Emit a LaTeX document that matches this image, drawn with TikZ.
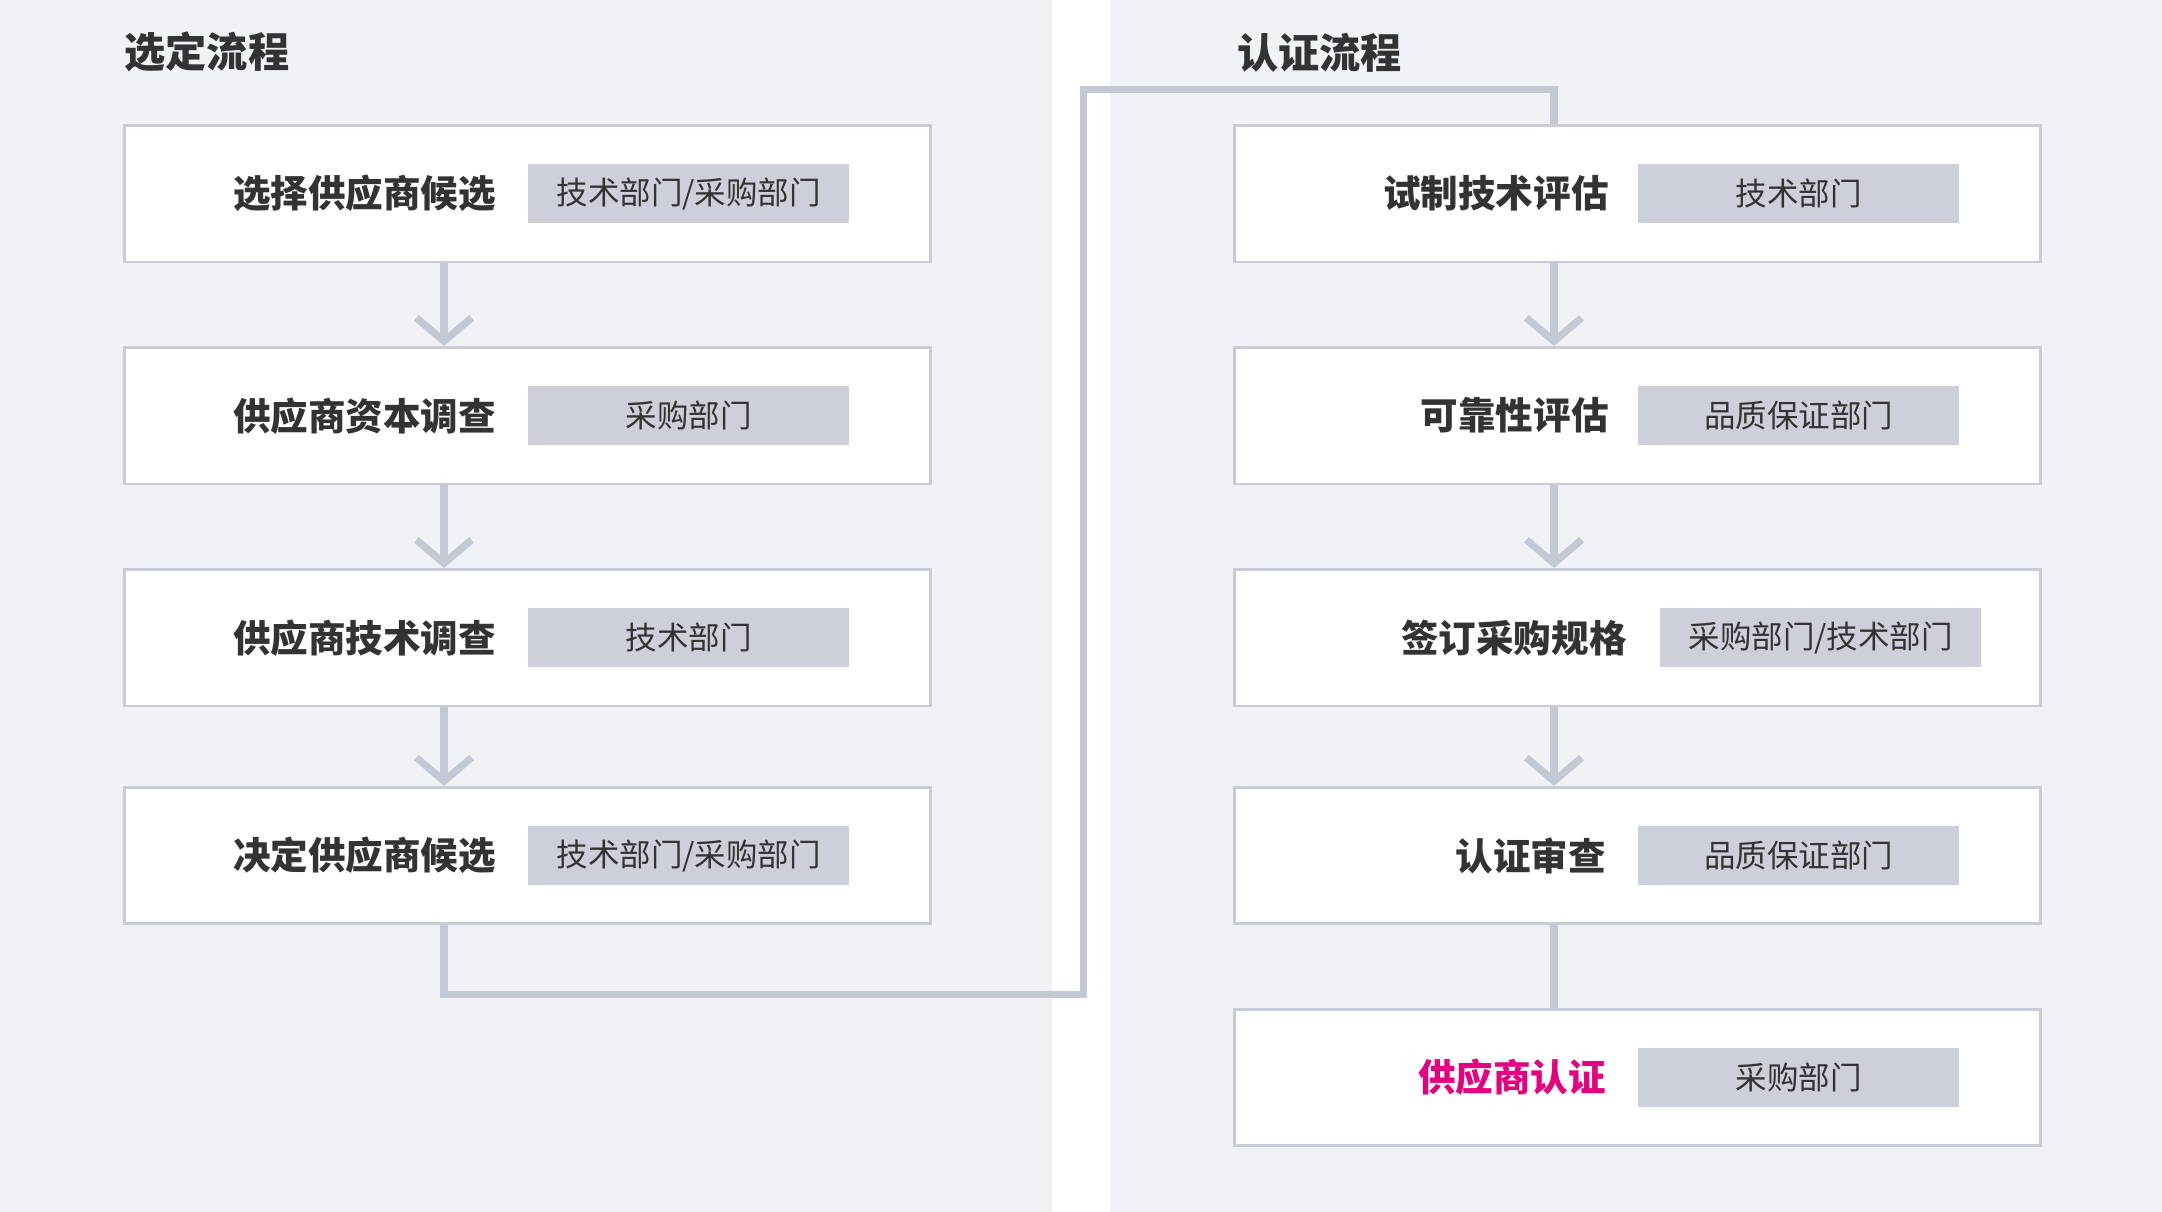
\documentclass[tikz,border=0pt]{standalone}
\usepackage{fontspec}
\newfontfamily\cjk{Noto Sans CJK SC}
\usetikzlibrary{arrows.meta,positioning}
\definecolor{panel}{HTML}{F1F2F6}
\definecolor{tagbg}{HTML}{CDD0DB}
\definecolor{flow}{HTML}{C3C8D5}
\definecolor{frame}{HTML}{C9CCD6}
\definecolor{ink}{HTML}{333333}
\definecolor{accent}{HTML}{E4007F}
\tikzset{
  stepbox/.style={draw=frame,line width=1.2pt,fill=white,minimum width=11.7cm,minimum height=1.98cm,inner sep=0pt},
  steplabel/.style={anchor=east,text=ink,font=\cjk\bfseries\fontsize{15.5}{18}\selectfont,inner sep=0pt},
  tag/.style={fill=tagbg,minimum width=4.66cm,minimum height=0.86cm,inner sep=0pt,text=ink,font=\cjk\fontsize{13}{15}\selectfont},
  heading/.style={anchor=west,text=ink,font=\cjk\bfseries\fontsize{17}{20}\selectfont,inner sep=0pt},
  flowline/.style={draw=flow,line width=3pt},
  flowarrow/.style={flowline,-{Straight Barb[length=0.34cm,width=0.8cm]}}
}
\begin{document}
\begin{tikzpicture}[x=0.02cm,y=-0.02cm]

% panels
\fill[white] (0,0) rectangle (1568,879);
\fill[panel] (0,0) rectangle (763,879);
\fill[panel] (805,0) rectangle (1568,879);

% headings
\node[heading] (hsel) at (90,38) {选定流程};
\node[heading] (hcert) at (897,38) {认证流程};

% left column
\foreach \i/\y/\txt/\dept in {1/140.5/选择供应商候选/{技术部门/采购部门},
                               2/301.5/供应商资本调查/采购部门,
                               3/462.5/供应商技术调查/技术部门,
                               4/620.5/决定供应商候选/{技术部门/采购部门}}{
  \node[stepbox] (L\i) at (382.5,\y) {};
  \node[steplabel] (L\i t) at (360,\y) {\txt};
  \node[tag] (L\i g) at (499.5,\y) {\dept};
}

% right column
\foreach \i/\y/\txt/\dept/\tx/\gx in {1/140.5/试制技术评估/技术部门/1167/1304.5,
                               2/301.5/可靠性评估/品质保证部门/1167/1304.5,
                               3/462.5/签订采购规格/{采购部门/技术部门}/1180/1320.5,
                               4/620.5/认证审查/品质保证部门/1165/1304.5,
                               5/781.5/{\textcolor{accent}{供应商认证}}/采购部门/1165/1304.5}{
  \node[stepbox] (R\i) at (1187.5,\y) {};
  \node[steplabel] (R\i t) at (\tx,\y) {\txt};
  \node[tag] (R\i g) at (\gx,\y) {\dept};
}

% connectors
\foreach \a/\b in {1/2,2/3,3/4}{
  \draw[flowarrow] ([xshift=-1.21cm]L\a.south) -- ([xshift=-1.21cm]L\b.north);
  \draw[flowarrow] ([xshift=-1.21cm]R\a.south) -- ([xshift=-1.21cm]R\b.north);
}
\draw[flowline] ([xshift=-1.21cm]R4.south) -- ([xshift=-1.21cm]R5.north);
\draw[flowline] ([xshift=-1.21cm]L4.south) -- ++(0,50) -| (786,65) -| ([xshift=-1.21cm]R1.north);

\end{tikzpicture}
\end{document}
